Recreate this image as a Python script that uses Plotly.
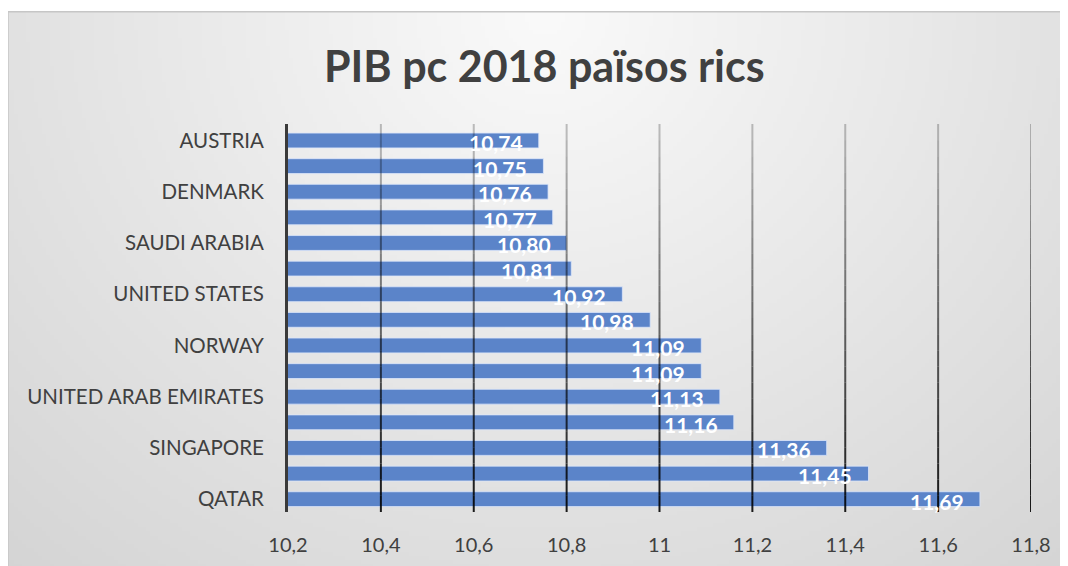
import base64
import struct
import zlib

import numpy as np
import plotly.graph_objects as go

# data, top to bottom as in the chart
countries = ["AUSTRIA", "ICELAND", "DENMARK", "NETHERLANDS", "SAUDI ARABIA",
             "SWITZERLAND", "UNITED STATES", "IRELAND", "NORWAY", "KUWAIT",
             "UNITED ARAB EMIRATES", "BRUNEI", "SINGAPORE", "LUXEMBOURG", "QATAR"]
values = [10.74, 10.75, 10.76, 10.77, 10.80, 10.81, 10.92, 10.98,
          11.09, 11.09, 11.13, 11.16, 11.36, 11.45, 11.69]
shown_labels = ["AUSTRIA", "DENMARK", "SAUDI ARABIA", "UNITED STATES", "NORWAY",
                "UNITED ARAB EMIRATES", "SINGAPORE", "QATAR"]
x_ticks = [10.2, 10.4, 10.6, 10.8, 11.0, 11.2, 11.4, 11.6, 11.8]
x_tick_text = ["10,2", "10,4", "10,6", "10,8", "11", "11,2", "11,4", "11,6", "11,8"]
title = "PIB pc 2018 països rics"

W, H = 1068, 566
OFF = 8  # the page body margin
# plot area in page pixels
left, right, top, bottom = 288, 1031, 123.5, 512.5
ML, MT = left - OFF, top - OFF
MR, MB = W - (right - OFF), H - (bottom - OFF)
pw, ph = right - left, bottom - top


def px_x(p):
    return (p - left) / pw


def px_y(p):
    return (bottom - p) / ph


# soft grey gradient for the chart frame, as a small png
def gradient_png(w, h):
    xs = np.linspace(8, 1062, w)
    ys = np.linspace(11, 566, h)
    gx, gy = np.meshgrid(xs, ys)
    d = np.sqrt((gx - 545) ** 2 + ((gy - 15) * 1.1) ** 2)
    v = np.clip(250 - d * 0.046, 200, 250).astype(np.uint8)
    arr = np.dstack([v, v, v])
    raw = b"".join(b"\x00" + row.tobytes() for row in arr)

    def chunk(tag, data):
        return (struct.pack(">I", len(data)) + tag + data
                + struct.pack(">I", zlib.crc32(tag + data) & 0xffffffff))

    png = (b"\x89PNG\r\n\x1a\n"
           + chunk(b"IHDR", struct.pack(">IIBBBBB", w, h, 8, 2, 0, 0, 0))
           + chunk(b"IDAT", zlib.compress(raw, 9))
           + chunk(b"IEND", b""))
    return "data:image/png;base64," + base64.b64encode(png).decode()


fig = go.Figure()
fig.add_trace(go.Bar(
    x=values, y=countries, orientation="h",
    marker=dict(color="#5b84c9", line=dict(color="rgba(220,230,250,0.8)", width=1)),
    width=0.58, hoverinfo="skip",
))

# value labels inside bar ends
for c, v in zip(countries, values):
    fig.add_annotation(
        x=v, y=c, text=f"<b>{v:.2f}".replace(".", ",") + "</b>", showarrow=False,
        xanchor="right", xshift=-14, yshift=-2,
        font=dict(family="Lato", size=21, color="white"),
    )

# gridlines fading from light grey at top to near black at bottom
nseg = 24
for t in x_ticks[1:]:
    for i in range(nseg):
        a = 0.22 + 0.68 * (i + 0.5) / nseg
        fig.add_shape(type="line", xref="x", yref="paper",
                      x0=t, x1=t, y0=1 - i / nseg, y1=1 - (i + 1) / nseg,
                      line=dict(color=f"rgba(0,0,0,{a:.3f})", width=2),
                      layer="above")

# frame border
fig.add_shape(type="rect", xref="paper", yref="paper",
              x0=px_x(8), x1=px_x(1062), y0=px_y(570), y1=px_y(11),
              line=dict(color="#c6c6c6", width=1.5), layer="above")

fig.add_annotation(xref="paper", yref="paper", x=px_x(544), y=px_y(65),
                   xanchor="center", yanchor="middle",
                   text=f"<b>{title}</b>", showarrow=False,
                   font=dict(family="Lato", size=43, color="#404040"))

fig.update_layout(
    width=W, height=H,
    margin=dict(l=ML, r=MR, t=MT, b=MB, autoexpand=False),
    paper_bgcolor="white", plot_bgcolor="rgba(0,0,0,0)",
    showlegend=False, bargap=0.4,
    font=dict(family="Lato", color="#404040"),
    images=[dict(source=gradient_png(264, 139), xref="paper", yref="paper",
                 x=px_x(8), y=px_y(11), sizex=px_x(1062) - px_x(8),
                 sizey=px_y(11) - px_y(570), xanchor="left", yanchor="top",
                 sizing="stretch", layer="below")],
    xaxis=dict(range=[10.2, 11.8], tickvals=x_ticks, ticktext=x_tick_text,
               showgrid=False, zeroline=False, showline=False,
               tickfont=dict(size=20, color="#404040"), ticklabelstandoff=19),
    yaxis=dict(autorange="reversed", tickvals=shown_labels,
               showgrid=False, showline=True, linecolor="#3a3a3a", linewidth=3,
               tickfont=dict(size=20.5, color="#404040"), ticklabelstandoff=17),
)

fig.write_html("out.html")
